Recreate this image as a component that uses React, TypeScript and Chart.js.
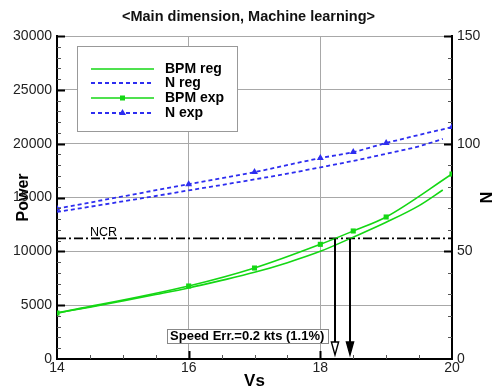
import React, { useEffect, useRef } from 'react';
import { Chart, registerables } from 'chart.js';

Chart.register(...registerables);

// Measured points (Vs in knots)
const vsExp = [14, 16, 17, 18, 18.5, 19, 20];
const bpmExp = [4270, 6780, 8450, 10650, 11890, 13190, 17180];
const nExp = [69.8, 81.2, 86.8, 93.3, 96.1, 100.3, 107.7];

// Regression curves
const vsReg = [14, 14.5, 15, 15.5, 16, 16.5, 17, 17.5, 18, 18.5, 19, 19.5, 19.86];
const bpmReg = [4270, 4820, 5400, 5990, 6600, 7300, 8050, 8950, 10000, 11320, 12700, 14250, 15700];
const nReg = [68.3, 70.7, 73.2, 75.7, 78.3, 80.8, 83.4, 86.1, 89.0, 92.0, 95.3, 98.8, 102.2];

// NCR power level and the speeds where it meets each BPM curve
const ncrPower = 11200;
const crossingVs = [18.22, 18.45];

const titleText = '<Main dimension, Machine learning>';
const speedErrText = 'Speed Err.=0.2 kts (1.1%)';
const legendLabels = ['BPM reg', 'N reg', 'BPM exp', 'N exp'];

const GREEN = 'rgb(20,215,20)';
const BLUE = 'rgb(45,45,240)';
const FONT = '"Liberation Sans", Arial, Helvetica, sans-serif';

const pts = (xs: number[], ys: number[]) => xs.map((x, i) => ({ x, y: ys[i] }));
const plainLabel = (v: any) => String(v);

const decorPlugin = {
  id: 'decor',
  afterDatasetsDraw(chart: any) {
    const { ctx, chartArea: area, scales } = chart;
    const xs = scales.x;
    const ys = scales.y;
    const y1 = scales.y1;
    ctx.save();

    // inward tick marks
    const tick = (x0: number, y0: number, x1: number, y1p: number, major: boolean) => {
      ctx.beginPath();
      ctx.strokeStyle = major ? '#000' : '#555';
      ctx.lineWidth = major ? 2 : 1;
      ctx.moveTo(x0, y0);
      ctx.lineTo(x1, y1p);
      ctx.stroke();
    };
    for (let v = 1000; v <= 30000; v += 1000) {
      const py = Math.round(ys.getPixelForValue(v)) + 0.5;
      const major = v % 5000 === 0;
      tick(area.left, py, area.left + (major ? 8 : 4), py, major);
    }
    for (let v = 10; v <= 150; v += 10) {
      const py = Math.round(y1.getPixelForValue(v)) + 0.5;
      const major = v % 50 === 0;
      tick(area.right, py, area.right - (major ? 8 : 4), py, major);
    }
    for (let v = 14.5; v < 20; v += 0.5) {
      const px = Math.round(xs.getPixelForValue(v)) + 0.5;
      const major = v % 2 === 0;
      tick(px, area.bottom, px, area.bottom - (major ? 8 : 4), major);
    }

    // arrows from the NCR line down to the speed axis
    const ncrY = ys.getPixelForValue(ncrPower);
    const tipY = area.bottom - 4;
    const headH = 13;
    const headW = 3.6;
    crossingVs.forEach((vs, i) => {
      const px = Math.round(xs.getPixelForValue(vs));
      ctx.beginPath();
      ctx.strokeStyle = '#000';
      ctx.lineWidth = 2;
      ctx.moveTo(px, ncrY);
      ctx.lineTo(px, tipY - headH + 1);
      ctx.stroke();
      ctx.beginPath();
      ctx.moveTo(px - headW, tipY - headH);
      ctx.lineTo(px + headW, tipY - headH);
      ctx.lineTo(px, tipY);
      ctx.closePath();
      ctx.lineWidth = 1.4;
      ctx.fillStyle = i === 0 ? '#fff' : '#000';
      ctx.fill();
      ctx.stroke();
    });

    // NCR caption
    ctx.font = `12.5px ${FONT}`;
    ctx.fillStyle = '#000';
    ctx.textAlign = 'left';
    ctx.textBaseline = 'alphabetic';
    ctx.fillText('NCR', xs.getPixelForValue(14.5), ncrY - 2);

    // speed error box
    ctx.font = `bold 13px ${FONT}`;
    const tw = ctx.measureText(speedErrText).width;
    const boxRight = xs.getPixelForValue(crossingVs[0]) - 7;
    const boxW = tw + 7;
    const boxH = 14;
    const boxTop = area.bottom - 30;
    ctx.fillStyle = '#fff';
    ctx.fillRect(boxRight - boxW, boxTop, boxW, boxH);
    ctx.strokeStyle = '#888';
    ctx.lineWidth = 1;
    ctx.strokeRect(Math.round(boxRight - boxW) + 0.5, boxTop + 0.5, Math.round(boxW), boxH);
    ctx.fillStyle = '#000';
    ctx.textBaseline = 'middle';
    ctx.fillText(speedErrText, boxRight - boxW + 3.5, boxTop + boxH / 2 + 0.5);

    // legend
    const lx = area.left + 20;
    const ly = area.top + 10;
    ctx.fillStyle = '#fff';
    ctx.fillRect(lx, ly, 160, 85);
    ctx.strokeStyle = '#999';
    ctx.lineWidth = 1;
    ctx.strokeRect(lx + 0.5, ly + 0.5, 160, 85);
    const rowY = [23, 37, 52, 67];
    chart.data.datasets.slice(0, 4).forEach((ds: any, i: number) => {
      const yy = ly + rowY[i];
      const x0 = lx + 14;
      const x1 = lx + 77;
      ctx.beginPath();
      ctx.setLineDash(ds.borderDash || []);
      ctx.strokeStyle = ds.borderColor;
      ctx.lineWidth = ds.borderWidth;
      ctx.moveTo(x0, yy);
      ctx.lineTo(x1, yy);
      ctx.stroke();
      ctx.setLineDash([]);
      const mx = (x0 + x1) / 2;
      if (ds.pointStyle === 'rect') {
        ctx.fillStyle = ds.borderColor;
        ctx.fillRect(mx - 2.5, yy - 2.5, 5, 5);
      } else if (ds.pointStyle === 'triangle') {
        ctx.fillStyle = ds.borderColor;
        ctx.beginPath();
        ctx.moveTo(mx, yy - 4);
        ctx.lineTo(mx + 3.5, yy + 2);
        ctx.lineTo(mx - 3.5, yy + 2);
        ctx.closePath();
        ctx.fill();
      }
      ctx.font = `bold 14px ${FONT}`;
      ctx.fillStyle = '#000';
      ctx.textAlign = 'left';
      ctx.textBaseline = 'middle';
      ctx.fillText(ds.label, lx + 88, yy + 0.5);
    });

    ctx.restore();
  },
};

export default function App() {
  const canvasRef = useRef<HTMLCanvasElement | null>(null);

  useEffect(() => {
    if (!canvasRef.current) return;
    Chart.defaults.font.family = FONT;
    const chart = new Chart(canvasRef.current, {
      type: 'line',
      data: {
        datasets: [
          {
            label: legendLabels[0],
            data: pts(vsReg, bpmReg),
            borderColor: GREEN,
            borderWidth: 1.6,
            pointRadius: 0,
            cubicInterpolationMode: 'monotone',
            yAxisID: 'y',
          },
          {
            label: legendLabels[1],
            data: pts(vsReg, nReg),
            borderColor: BLUE,
            borderWidth: 1.8,
            borderDash: [4, 3],
            pointRadius: 0,
            cubicInterpolationMode: 'monotone',
            yAxisID: 'y1',
          },
          {
            label: legendLabels[2],
            data: pts(vsExp, bpmExp),
            borderColor: GREEN,
            backgroundColor: GREEN,
            borderWidth: 1.6,
            pointStyle: 'rect',
            pointRadius: 3.6,
            pointBorderWidth: 0,
            pointBackgroundColor: GREEN,
            cubicInterpolationMode: 'monotone',
            yAxisID: 'y',
          },
          {
            label: legendLabels[3],
            data: pts(vsExp, nExp),
            borderColor: BLUE,
            backgroundColor: BLUE,
            borderWidth: 1.8,
            borderDash: [4, 3],
            pointStyle: 'triangle',
            pointRadius: 4,
            pointBorderWidth: 0,
            pointBackgroundColor: BLUE,
            cubicInterpolationMode: 'monotone',
            yAxisID: 'y1',
          },
          {
            label: 'NCR',
            data: [
              { x: 14, y: ncrPower },
              { x: 20, y: ncrPower },
            ],
            borderColor: '#000',
            borderWidth: 1.6,
            borderDash: [9, 3, 2, 3],
            pointRadius: 0,
            yAxisID: 'y',
          },
        ],
      },
      options: {
        animation: false,
        responsive: true,
        maintainAspectRatio: false,
        layout: { padding: 0 },
        plugins: {
          legend: { display: false },
          tooltip: { enabled: false },
          title: {
            display: true,
            text: titleText,
            color: '#111',
            font: { size: 14.5, weight: 'bold', lineHeight: 1.2 },
            padding: { top: 8, bottom: 10.6 },
          },
        },
        scales: {
          x: {
            type: 'linear',
            min: 14,
            max: 20,
            ticks: { stepSize: 2, padding: 1, color: '#222', font: { size: 14 }, maxRotation: 0, autoSkip: false, callback: plainLabel },
            grid: {
              drawTicks: false,
              lineWidth: 1,
              color: (c: any) => (c.tick && (c.tick.value === 14 || c.tick.value === 20) ? 'rgba(0,0,0,0)' : '#a8a8a8'),
            },
            border: { color: '#000', width: 2 },
            title: {
              display: true,
              text: 'Vs',
              color: '#000',
              font: { size: 17, weight: 'bold', lineHeight: 1 },
              padding: { top: 0, bottom: -2 },
            },
            afterFit: (s: any) => {
              s.height = 29;
            },
          },
          y: {
            type: 'linear',
            position: 'left',
            min: 0,
            max: 30000,
            ticks: { stepSize: 5000, padding: 5, color: '#222', font: { size: 14 }, callback: plainLabel },
            grid: {
              drawTicks: false,
              lineWidth: 1,
              color: (c: any) => (c.tick && c.tick.value === 0 ? 'rgba(0,0,0,0)' : '#a8a8a8'),
            },
            border: { color: '#000', width: 2 },
            title: {
              display: true,
              text: 'Power',
              color: '#000',
              font: { size: 16, weight: 'bold', lineHeight: 1 },
              padding: { top: 16, bottom: 0 },
            },
            afterFit: (s: any) => {
              s.width = 57;
            },
          },
          y1: {
            type: 'linear',
            position: 'right',
            min: 0,
            max: 150,
            ticks: { stepSize: 50, padding: 5, color: '#222', font: { size: 14 }, callback: plainLabel },
            grid: { display: false, drawTicks: false },
            border: { color: '#000', width: 2 },
            title: {
              display: true,
              text: 'N',
              color: '#000',
              font: { size: 16, weight: 'bold', lineHeight: 1 },
              padding: { top: 5, bottom: 0 },
            },
            afterFit: (s: any) => {
              s.width = 45;
            },
          },
        },
      },
      plugins: [decorPlugin],
    } as any);
    return () => chart.destroy();
  }, []);

  return (
    <div style={{ position: 'fixed', left: 0, top: 0, width: 497, height: 388, background: '#fff' }}>
      <canvas ref={canvasRef} />
    </div>
  );
}
